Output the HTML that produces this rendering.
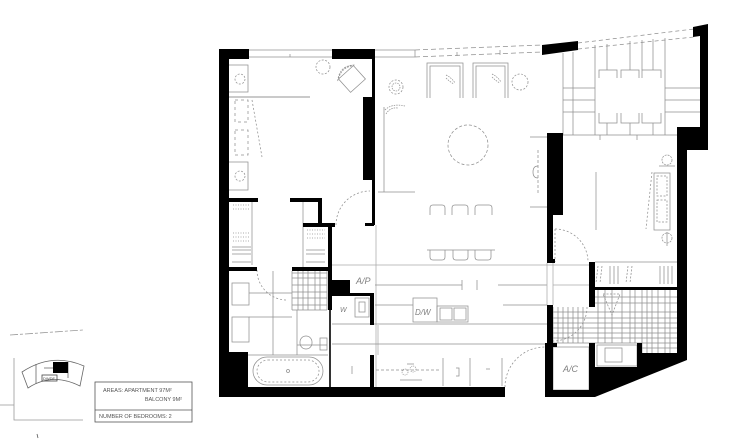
<!DOCTYPE html>
<html><head><meta charset="utf-8"><style>
html,body{margin:0;padding:0;background:#fff;width:750px;height:440px;overflow:hidden}
svg{display:block}
text{font-family:"Liberation Sans",sans-serif;}
</style></head><body>
<svg width="750" height="440" viewBox="0 0 750 440" xmlns="http://www.w3.org/2000/svg">
<rect width="750" height="440" fill="#fff"/>

<!-- thin lines -->
<g fill="none" stroke="#909090" stroke-width="0.75">
  <!-- bedroom1 window -->
  <line x1="249" y1="50" x2="332" y2="50"/><line x1="249" y1="57" x2="332" y2="57"/>
  <line x1="290" y1="54" x2="290" y2="57"/>
  <!-- living window -->
  <line x1="375" y1="50" x2="415" y2="50"/><line x1="375" y1="57" x2="415" y2="57"/>
  <line x1="415" y1="50" x2="415" y2="57"/>
  <line x1="415" y1="50" x2="542" y2="45" stroke-dasharray="5 3"/>
  <line x1="415" y1="57" x2="542" y2="52" stroke-dasharray="5 3"/>
  <line x1="457" y1="52" x2="457" y2="56"/><line x1="500" y1="50" x2="500" y2="55"/>
  <!-- dining window -->
  <line x1="578" y1="43" x2="694" y2="29" stroke-dasharray="4 3"/>
  <line x1="578" y1="49" x2="694" y2="37" stroke-dasharray="4 3"/>

  <!-- bedroom 1 -->
  <path d="M229 65 H248 V92 H229"/>
  <circle cx="240" cy="79" r="5" stroke-dasharray="2 1.5"/>
  <line x1="229" y1="97" x2="310" y2="97" stroke="#aaa" stroke-width="1.2"/>
  <rect x="235" y="100" width="13" height="22" stroke-dasharray="3 3"/>
  <rect x="235" y="130" width="13" height="25" stroke-dasharray="3 3"/>
  <line x1="252" y1="100" x2="262" y2="157" stroke-dasharray="2 2"/>
  <path d="M229 162 H248 V190 H229"/>
  <circle cx="240" cy="176" r="5" stroke-dasharray="2 1.5"/>
  <circle cx="323" cy="67" r="7" stroke-dasharray="2 1.5"/>
  <g transform="translate(352 79) rotate(-42)">
    <rect x="-10" y="-9" width="20" height="18"/>
    <path d="M-10 -9 Q0 -16 10 -9 M-12 -8 Q0 -19 12 -8" stroke-dasharray="2 1"/>
  </g>
  <path d="M336 225 A34 34 0 0 1 370 191" stroke-dasharray="2 2"/>

  <!-- lower-left utility -->
  <line x1="303" y1="202" x2="303" y2="267"/>
  <line x1="252" y1="202" x2="252" y2="265"/>
  <g stroke-dasharray="1 1.5">
    <path d="M233 205 H249 M233 209 H249"/>
    <path d="M233 233 H249 M233 237 H249 M233 241 H249"/>
    <path d="M307 230 H325 M307 234 H325 M307 238 H325"/>
  </g>
  <path d="M232 247 H251 M232 250 H251 M232 254 H251 M232 262 H251"/>
  <path d="M306 250 H325 M306 254 H325 M306 262 H325"/>

  <!-- bathroom -->
  <path d="M257 270 A30 30 0 0 0 287 300" stroke-dasharray="2 2"/>
  <rect x="232" y="283" width="17" height="22"/>
  <rect x="232" y="317" width="17" height="25"/>
  <path d="M249 293 H292 M249 317 H292 M273 271 V355 M297 310 V355 M248 355 H328 M297 345 H327"/>
  <rect x="300" y="336" width="12" height="13" rx="6"/>
  <rect x="320" y="338" width="7" height="12"/>
  <rect x="253" y="357" width="70" height="28" rx="14"/>
  <rect x="257" y="360" width="62" height="22" rx="11" stroke-dasharray="2 2"/>
  <circle cx="288" cy="371" r="1.5"/>
  <path d="M292 271 V310 M298 271 V310 M303 271 V310 M308 271 V310 M315 271 V310 M320 271 V310 M327 271 V310
           M292 273 H327 M292 278 H327 M292 285 H327 M292 292 H327 M292 298 H327 M292 305 H327 M292 310 H327"/>

  <!-- central corridor / kitchen -->
  <line x1="332" y1="265" x2="589" y2="265" stroke="#aaa"/>
  <path d="M376 225 V387 M378 325 V355" stroke="#aaa"/>
  <rect x="355" y="298" width="14" height="19"/>
  <rect x="359" y="302" width="6" height="10"/>
  <path d="M375 285 H462 M498 285 H547 M462 280 V290 M477 280 V290"/>
  <path d="M375 305 H413 M503 305 H547"/>
  <rect x="413" y="298" width="24" height="24"/>
  <rect x="437" y="306" width="31" height="16"/>
  <rect x="440" y="308" width="12" height="12"/><rect x="454" y="308" width="12" height="12"/>
  <path d="M332 324 H547 M332 344 H547"/>
  <line x1="376" y1="370" x2="440" y2="370" stroke-dasharray="3 2"/>
  <circle cx="405" cy="372" r="3" stroke-dasharray="1 1"/><circle cx="413" cy="369" r="3" stroke-dasharray="1 1"/>
  <path d="M400 380 H422 M407 364 H414"/>
  <path d="M443 358 V386 M470 358 V386 M502 358 V386 M456 368 H459 V376 H456 M486 369 H490"/>
  <line x1="352" y1="366" x2="352" y2="374"/>
  <path d="M505 387 A40 40 0 0 1 545 347" stroke-dasharray="2 2"/>
  <line x1="547" y1="263" x2="547" y2="305" stroke="#aaa"/>

  <!-- living -->
  <path d="M427 98 V63 H463 V98 M430 98 V66 H460 V98"/>
  <path d="M473 98 V63 H508 V98 M476 98 V66 H505 V98"/>
  <path d="M446 75 Q452 78 455 83 M446 78 Q450 82 454 84" stroke-dasharray="1.5 1"/>
  <path d="M492 74 Q498 77 501 82 M492 77 Q496 81 500 83" stroke-dasharray="1.5 1"/>
  <circle cx="396" cy="87" r="7" stroke-dasharray="2 1.5"/><circle cx="396" cy="87" r="4" stroke-dasharray="1.5 1"/>
  <circle cx="520" cy="82" r="8" stroke-dasharray="2 1.5"/>
  <circle cx="468" cy="145" r="20" stroke-dasharray="3 2"/>
  <path d="M384 107 V192 M378 192 H415"/>
  <path d="M385 110 Q392 103 405 106 M386 114 Q390 107 398 108" stroke-dasharray="1.5 1"/>
  <line x1="538" y1="150" x2="538" y2="193" stroke-dasharray="3 2"/>
  <path d="M533 172 Q533 166 538 166 M533 172 Q533 178 538 178"/>
  <path d="M530 137 H547 M530 207 H547"/>
  <line x1="563" y1="53" x2="563" y2="135"/>
  <path d="M430 215 V208 Q430 205 433 205 H442 Q445 205 445 208 V215
           M452 215 V208 Q452 205 455 205 H465 Q468 205 468 208 V215
           M475 215 V208 Q475 205 478 205 H489 Q492 205 492 208 V215"/>
  <path d="M427 250 H495
           M430 250 V257 Q430 260 433 260 H442 Q445 260 445 257 V250
           M453 250 V257 Q453 260 456 260 H465 Q468 260 468 257 V250
           M475 250 V257 Q475 260 478 260 H488 Q491 260 491 257 V250"/>

  <!-- dining -->
  <path d="M573 52 V135 M595 45 V135 M665 38 V135"/>
  <path d="M607 44 V70 M630 41 V70 M642 40 V70 M653 39 V70 M607 123 V135 M630 123 V135 M653 123 V135"/>
  <path d="M563 88 H595 M563 100 H595 M563 112 H595 M665 88 H700 M665 100 H700 M665 112 H700"/>
  <path d="M599 78 V70 H617 V78 M621 78 V70 H639 V78 M642 78 V70 H661 V78"/>
  <path d="M599 113 V123 H617 V113 M621 113 V123 H639 V113 M642 113 V123 H661 V113"/>
  <path d="M563 135 H677 M600 135 V140 M637 135 V140"/>

  <!-- bedroom 2 -->
  <line x1="596" y1="172" x2="596" y2="230"/>
  <circle cx="667" cy="160" r="5" stroke-dasharray="2 1"/><line x1="659" y1="166" x2="675" y2="166"/>
  <circle cx="667" cy="238" r="5" stroke-dasharray="2 1"/><line x1="667" y1="232" x2="667" y2="246"/>
  <rect x="654" y="173" width="16" height="57"/>
  <rect x="657" y="176" width="10" height="20" stroke-dasharray="2 1.5"/>
  <rect x="657" y="200" width="10" height="22" stroke-dasharray="2 1.5"/>
  <line x1="652" y1="172" x2="646" y2="229" stroke-dasharray="2 2"/>
  <path d="M555 229 V262 M555 229 A33 33 0 0 1 588 262" stroke-dasharray="2 2"/>
  <line x1="595" y1="262" x2="677" y2="262"/>
  <g stroke-dasharray="2 1.5"><path d="M598 266 L596 283 M602 266 L600 283 M628 266 L626 283 M632 266 L630 283"/></g>
  <path d="M610 266 V284 M614 266 V284 M618 266 V284 M660 266 V284 M664 266 V284 M668 266 V284 M672 266 V284"/>
  <path d="M553 263 V305 M553 285 H589" stroke="#aaa"/>

  <!-- lower right grid -->
  <path d="M553 307 V343 M558 307 V343 M563 307 V343 M568 307 V343 M573 307 V343 M578 307 V343 M583 307 V343
           M598 290 V343 M605 290 V343 M612 290 V343 M622 290 V343 M630 290 V343 M635 290 V343
           M642 290 V353 M647 290 V353 M652 290 V353 M658 290 V353 M665 290 V353 M670 290 V353
           M553 312 H677 M553 318 H677 M553 323 H677 M553 328 H677 M553 333 H677 M553 338 H677 M553 343 H677
           M595 297 H677 M595 303 H677 M642 348 H677"/>
  <path d="M603 294 L620 294 L612 315 Z" stroke-dasharray="2 1.5"/>
  <path d="M587 307 A34 34 0 0 1 553 341" stroke-dasharray="2 2"/>
  <rect x="597" y="345" width="40" height="21"/>
  <rect x="605" y="348" width="17" height="14"/>
  <rect x="553" y="347" width="36" height="43"/>
</g>
<line x1="330" y1="310" x2="330" y2="387" stroke="#333" stroke-width="2"/>

<!-- walls -->
<g fill="#000">
  <rect x="219" y="49" width="10" height="348"/>
  <rect x="219" y="49" width="30" height="10"/>
  <rect x="332" y="49" width="43" height="10"/>
  <rect x="372" y="49" width="3" height="176"/>
  <rect x="363" y="97" width="12" height="83"/>
  <rect x="365" y="223" width="9" height="3"/>
  <rect x="219" y="387" width="286" height="10"/>
  <rect x="229" y="352" width="19" height="35"/>
  <rect x="229" y="198" width="29" height="4"/>
  <rect x="290" y="198" width="32" height="4"/>
  <rect x="318" y="198" width="4" height="27"/>
  <rect x="303" y="223" width="32" height="4"/>
  <rect x="328" y="223" width="4" height="87"/>
  <rect x="229" y="267" width="28" height="4"/>
  <rect x="292" y="267" width="36" height="4"/>
  <rect x="330" y="280" width="20" height="13"/>
  <rect x="330" y="293" width="44" height="3"/>
  <rect x="370" y="293" width="4" height="32"/>
  <rect x="370" y="355" width="4" height="32"/>
  <rect x="547" y="133" width="16" height="82"/>
  <rect x="547" y="215" width="6" height="48"/>
  <rect x="547" y="259" width="8" height="4"/>
  <rect x="547" y="305" width="6" height="42"/>
  <rect x="545" y="343" width="12" height="4"/>
  <rect x="545" y="347" width="8" height="50"/>
  <rect x="589" y="262" width="6" height="45"/>
  <rect x="593" y="287" width="94" height="3"/>
  <rect x="677" y="127" width="10" height="233"/>
  <rect x="677" y="127" width="31" height="23"/>
  <polygon points="693,27 708,24 708,150 700,150 700,36 693,37"/>
  <polygon points="542,45 578,41 578,50 542,55"/>
  <polygon points="589,343 595,343 595,367 637,367 637,343 642,343 642,353 687,353 687,360 595,397 545,397 545,390 589,390"/>
</g>

<!-- labels -->
<g fill="#808080" font-style="italic">
  <text x="356" y="284" font-size="9">A/P</text>
  <text x="340" y="312" font-size="7">W</text>
  <text x="415" y="315" font-size="8">D/W</text>
  <text x="563" y="372" font-size="9">A/C</text>
</g>

<!-- key plan inset -->
<g fill="none" stroke="#999" stroke-width="0.8">
  <line x1="10" y1="335" x2="83" y2="330" stroke-dasharray="8 2 3 2"/>
  <path d="M14 358 V420 H83 M0 405 H14"/>
  <path d="M22 372 Q52 352 84 366 L80 386 Q52 372 28 388 Z" stroke="#666"/>
  <path d="M36 364 V384 M68 362 V378 M44 368 H66" stroke="#666"/>
  <rect x="42" y="375" width="15" height="6" stroke="#444"/>
</g>
<rect x="53" y="362" width="15" height="11" fill="#000"/>
<text x="43" y="380" font-size="4" fill="#444">DWDF</text>
<line x1="37" y1="434" x2="38" y2="438" stroke="#555" stroke-width="0.8"/>

<!-- info box -->
<g fill="none" stroke="#555" stroke-width="0.8">
  <rect x="95" y="382" width="97" height="40"/>
  <line x1="95" y1="410" x2="192" y2="410"/>
</g>
<g fill="#555" font-size="5.5">
  <text x="103" y="392">AREAS: APARTMENT 97M²</text>
  <text x="182" y="401" text-anchor="end">BALCONY 9M²</text>
  <text x="99" y="418">NUMBER OF BEDROOMS: 2</text>
</g>
</svg>
</body></html>
